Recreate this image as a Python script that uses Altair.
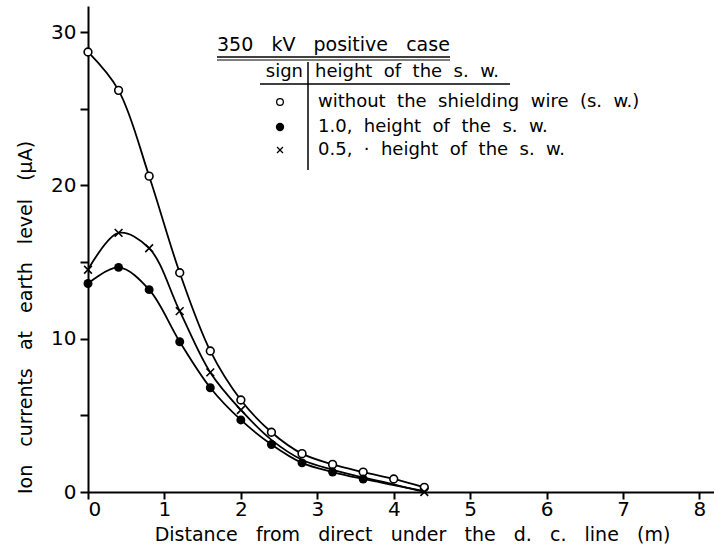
import altair as alt
import pandas as pd

# ---- data ----
x_all = [0, 0.4, 0.8, 1.2, 1.6, 2.0, 2.4, 2.8, 3.2, 3.6, 4.0, 4.4]
without_sw = [28.7, 26.2, 20.6, 14.3, 9.2, 6.0, 3.9, 2.5, 1.8, 1.3, 0.85, 0.3]
full_sw = [13.6, 14.65, 13.2, 9.8, 6.8, 4.7, 3.1, 1.9, 1.3, 0.85, 0.45, 0.05]
full_sw_marked = [True] * 10 + [False, False]
half_sw = [14.5, 16.9, 15.9, 11.8, 7.8, 5.35, 3.4, 2.1, 1.45, 0.95, 0.5, 0.0]
half_sw_marked = [True] * 6 + [False] * 5 + [True]

x_ticks = [0, 1, 2, 3, 4, 5, 6, 7, 8]
y_ticks = [0, 5, 10, 15, 20, 25, 30]

FONT = "DejaVu Sans"
NB = "\u00a0"


def sp(s, n=2):
    """widen the gaps between words (SVG collapses plain spaces)"""
    return s.replace(" ", " " + NB * n)


rows = []
for i, x in enumerate(x_all):
    rows.append({"x": x, "y": without_sw[i], "s": "without", "m": True})
    rows.append({"x": x, "y": full_sw[i], "s": "full", "m": full_sw_marked[i]})
    rows.append({"x": x, "y": half_sw[i], "s": "half", "m": half_sw_marked[i]})
df = pd.DataFrame(rows)

xs = alt.Scale(domain=[0, 8.19], nice=False, zero=False)
ys = alt.Scale(domain=[0, 31.7], nice=False)

xax = alt.Axis(values=x_ticks, format="d",
               title=sp("Distance from direct under the d. c. line (m)", 2),
               grid=False, domain=True, domainColor="black", domainWidth=2,
               tickColor="black", tickWidth=2, tickSize=7,
               labelFont=FONT, labelFontSize=20, labelColor="black", labelPadding=0,
               titleFont=FONT, titleFontSize=19, titleFontWeight="normal", titleColor="black",
               titlePadding=6, titleX=324, titleAnchor="middle")
yax = alt.Axis(values=y_ticks, format="d",
               title=sp("Ion currents at earth level (\u03bcA)", 2),
               labelExpr="datum.value % 10 == 0 ? datum.value : ''",
               grid=False, domain=True, domainColor="black", domainWidth=2,
               tickColor="black", tickWidth=2, tickSize=8,
               labelFont=FONT, labelFontSize=20, labelColor="black", labelPadding=4,
               titleFont=FONT, titleFontSize=19, titleFontWeight="normal", titleColor="black",
               titleAngle=270, titleX=-63, titleY=311, titleAlign="center", titleBaseline="middle")

base = alt.Chart(df)

lines = base.mark_line(color="black", strokeWidth=1.8, interpolate="catmull-rom").encode(
    x=alt.X("x:Q", scale=xs, axis=xax),
    y=alt.Y("y:Q", scale=ys, axis=yax),
    detail="s:N",
)

open_pts = base.transform_filter("datum.s == 'without'").mark_point(
    shape="circle", filled=True, fill="white", stroke="black", strokeWidth=1.6, size=60, opacity=1
).encode(x=alt.X("x:Q", scale=xs), y=alt.Y("y:Q", scale=ys))

full_pts = base.transform_filter("datum.s == 'full' && datum.m").mark_point(
    shape="circle", filled=True, color="black", size=80, opacity=1
).encode(x=alt.X("x:Q", scale=xs), y=alt.Y("y:Q", scale=ys))

CROSS = "M-1,-1L1,1M-1,1L1,-1"
half_pts = base.transform_filter("datum.s == 'half' && datum.m").mark_point(
    shape=CROSS, filled=False, stroke="black", strokeWidth=1.6, size=60, opacity=1
).encode(x=alt.X("x:Q", scale=xs), y=alt.Y("y:Q", scale=ys))


# ---- legend block (annotation) ----
def txt(t, x, y, align="left", size=18):
    return alt.Chart(pd.DataFrame({"t": [t]})).mark_text(
        font=FONT, fontSize=size, color="black", align=align, baseline="middle"
    ).encode(text="t:N", x=alt.value(x), y=alt.value(y))


def rule(x1, x2, y1, y2, w=1.5):
    return alt.Chart(pd.DataFrame({"t": [0]})).mark_rule(color="black", strokeWidth=w).encode(
        x=alt.value(x1), x2=alt.value(x2), y=alt.value(y1), y2=alt.value(y2))


legend_labels = [sp("without the shielding wire (s. w.)", 1),
                 sp("1.0, height of the s. w.", 1),
                 sp("0.5, \u00b7 height of the s. w.", 1)]
leg_y = [96, 121, 144]

legend = [
    txt(sp("350 kV positive case", 2), 129, 39, size=19),
    rule(129, 362, 51, 51), rule(129, 362, 54, 54, 1),
    txt("sign", 215, 66, align="right"),
    txt(sp("height of the s. w.", 1), 227, 66),
    rule(172, 422, 78, 78),
    rule(220, 220, 56, 164, 1.5),
]
for lab, yy in zip(legend_labels, leg_y):
    legend.append(txt(lab, 230, yy))

legend.append(alt.Chart(pd.DataFrame({"t": [0]})).mark_point(
    shape="circle", filled=True, fill="white", stroke="black", strokeWidth=1.3, size=45, opacity=1
).encode(x=alt.value(192), y=alt.value(leg_y[0])))
legend.append(alt.Chart(pd.DataFrame({"t": [0]})).mark_point(
    shape="circle", filled=True, color="black", size=70, opacity=1
).encode(x=alt.value(192), y=alt.value(leg_y[1])))
legend.append(alt.Chart(pd.DataFrame({"t": [0]})).mark_point(
    shape=CROSS, filled=False, stroke="black", strokeWidth=1.3, size=35, opacity=1
).encode(x=alt.value(192), y=alt.value(leg_y[2])))

chart = alt.layer(lines, open_pts, full_pts, half_pts, *legend).properties(
    width=626, height=486,
    autosize=alt.AutoSizeParams(type="none"),
    padding={"left": 88, "top": 6, "right": 0, "bottom": 57},
    background="white",
).configure_view(stroke=None)

chart.save("out.html", embed_options={"renderer": "svg", "actions": False})
